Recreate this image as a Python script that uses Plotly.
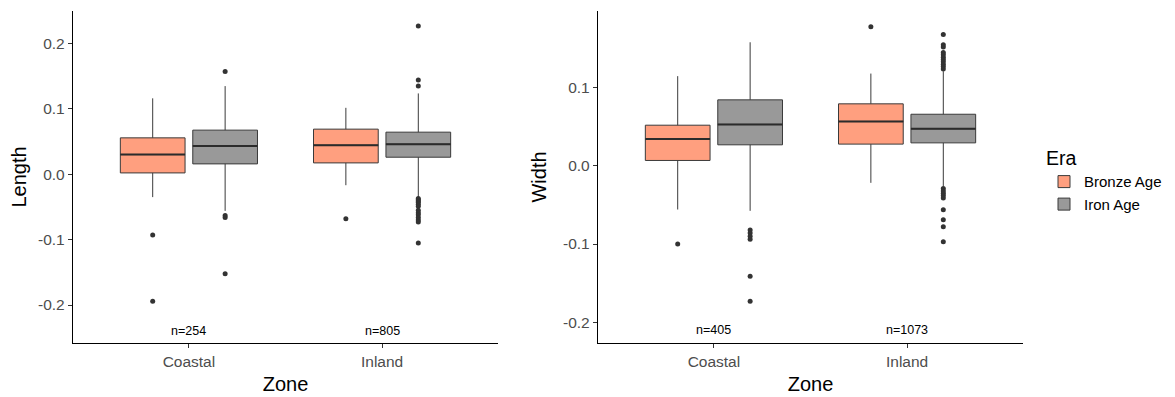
import plotly.graph_objects as go

zones = ["Coastal", "Inland"]
eras = ["Bronze Age", "Iron Age"]
era_colors = {"Bronze Age": "#FF9F7F", "Iron Age": "#999999"}

# Length panel stats: [Coastal, Inland]
len_q1 = {"Bronze Age": [0.002, 0.0173], "Iron Age": [0.0158, 0.026]}
len_med = {"Bronze Age": [0.030, 0.0444], "Iron Age": [0.0433, 0.046]}
len_q3 = {"Bronze Age": [0.0556, 0.0689], "Iron Age": [0.0674, 0.0643]}
len_lo = {"Bronze Age": [-0.035, -0.0168], "Iron Age": [-0.056, -0.035]}
len_hi = {"Bronze Age": [0.116, 0.1015], "Iron Age": [0.1347, 0.1235]}
len_out = {
    "Bronze Age": [[-0.093, -0.194], [-0.068]],
    "Iron Age": [[0.157, -0.063, -0.066, -0.152],
                 [0.2266, 0.144, 0.135, -0.037, -0.039, -0.041, -0.043, -0.046,
                  -0.049, -0.055, -0.059, -0.062, -0.066, -0.070, -0.073, -0.105]],
}
len_n = ["n=254", "n=805"]

# Width panel stats: [Coastal, Inland]
wid_q1 = {"Bronze Age": [0.0069, 0.0278], "Iron Age": [0.0269, 0.0294]}
wid_med = {"Bronze Age": [0.0342, 0.0568], "Iron Age": [0.053, 0.0473]}
wid_q3 = {"Bronze Age": [0.052, 0.0793], "Iron Age": [0.0844, 0.066]}
wid_lo = {"Bronze Age": [-0.0558, -0.0217], "Iron Age": [-0.0575, -0.026]}
wid_hi = {"Bronze Age": [0.1147, 0.118], "Iron Age": [0.158, 0.121]}
wid_out = {
    "Bronze Age": [[-0.100], [0.178]],
    "Iron Age": [[-0.082, -0.086, -0.090, -0.094, -0.141, -0.173],
                 [0.168, 0.155, 0.152, 0.145, 0.142, 0.139, 0.136, 0.133, 0.130,
                  0.127, 0.124, -0.029, -0.032, -0.035, -0.038, -0.041, -0.056,
                  -0.069, -0.078, -0.097]],
}
wid_n = ["n=405", "n=1073"]

zone_pos = [1, 2]
offsets = {"Bronze Age": -0.1875, "Iron Age": 0.1875}
box_w = 0.335
line_col = "#3a3a3a"
FONT = "Liberation Sans, Arial, sans-serif"

# page body has an 8px margin, so the figure is 8px smaller than the window
W, H = 1167, 389

fig = go.Figure()


def add_panel(q1, med, q3, lo, hi, out, xa, ya, legend):
    for era in eras:
        xs = [p + offsets[era] for p in zone_pos]
        fig.add_trace(go.Box(
            x=xs, q1=q1[era], median=med[era], q3=q3[era],
            lowerfence=lo[era], upperfence=hi[era],
            width=box_w, whiskerwidth=0,
            fillcolor=era_colors[era],
            line=dict(color=line_col, width=1),
            name=era, legendgroup=era, showlegend=legend,
            boxpoints=False, xaxis=xa, yaxis=ya,
        ))
        mx, my = [], []
        for x, m in zip(xs, med[era]):
            mx += [x - box_w / 2, x + box_w / 2, None]
            my += [m, m, None]
        fig.add_trace(go.Scatter(
            x=mx, y=my, mode="lines", line=dict(color="#2b2b2b", width=2),
            showlegend=False, hoverinfo="skip", xaxis=xa, yaxis=ya,
        ))
        ox, oy = [], []
        for x, vals in zip(xs, out[era]):
            ox += [x] * len(vals)
            oy += vals
        fig.add_trace(go.Scatter(
            x=ox, y=oy, mode="markers",
            marker=dict(color="#333333", size=5),
            showlegend=False, xaxis=xa, yaxis=ya,
        ))


add_panel(len_q1, len_med, len_q3, len_lo, len_hi, len_out, "x", "y", True)
add_panel(wid_q1, wid_med, wid_q3, wid_lo, wid_hi, wid_out, "x2", "y2", False)

tick_font = dict(family=FONT, size=15.5, color="#4d4d4d")
title_font = dict(family=FONT, size=20, color="#000000")

common_x = dict(
    range=[0.4, 2.6], tickvals=zone_pos, ticktext=zones,
    showline=True, linecolor="#000000", linewidth=1.3,
    ticks="outside", ticklen=4, tickcolor="#333333",
    showgrid=False, zeroline=False, tickfont=tick_font,
    title=dict(text="Zone", font=title_font, standoff=8),
)
common_y = dict(
    showline=True, linecolor="#000000", linewidth=1.3,
    ticks="outside", ticklen=4, tickcolor="#333333",
    showgrid=False, zeroline=False, tickfont=tick_font,
)

fig.update_layout(
    width=W, height=H,
    margin=dict(l=0, r=0, t=0, b=0, autoexpand=False),
    paper_bgcolor="white", plot_bgcolor="white",
    xaxis=dict(domain=[65 / W, 490 / W], anchor="y", **common_x),
    xaxis2=dict(domain=[590 / W, 1015 / W], anchor="y2", **common_x),
    yaxis=dict(domain=[54 / H, 386 / H], anchor="x", range=[-0.258, 0.2495],
               tickvals=[-0.2, -0.1, 0.0, 0.1, 0.2],
               ticktext=["-0.2", "-0.1", "0.0", "0.1", "0.2"],
               title=dict(text="Length", font=title_font, standoff=9), **common_y),
    yaxis2=dict(domain=[54 / H, 386 / H], anchor="x2", range=[-0.2265, 0.198],
                tickvals=[-0.2, -0.1, 0.0, 0.1],
                ticktext=["-0.2", "-0.1", "0.0", "0.1"],
                title=dict(text="Width", font=title_font, standoff=11), **common_y),
    legend=dict(
        x=1036 / W, y=1 - 132 / H, xanchor="left", yanchor="top",
        title=dict(text="Era", font=dict(family=FONT, size=19.5, color="#000")),
        font=dict(family=FONT, size=15, color="#000"),
        tracegroupgap=0, bgcolor="rgba(0,0,0,0)",
    ),
    showlegend=True,
)

for xa, ya, labels, yv in [("x", "y", len_n, -0.239), ("x2", "y2", wid_n, -0.210)]:
    for p, t in zip(zone_pos, labels):
        fig.add_annotation(x=p, y=yv, xref=xa, yref=ya, text=t, showarrow=False,
                           font=dict(family=FONT, size=12.5, color="#000"))

fig.write_html("out.html")
